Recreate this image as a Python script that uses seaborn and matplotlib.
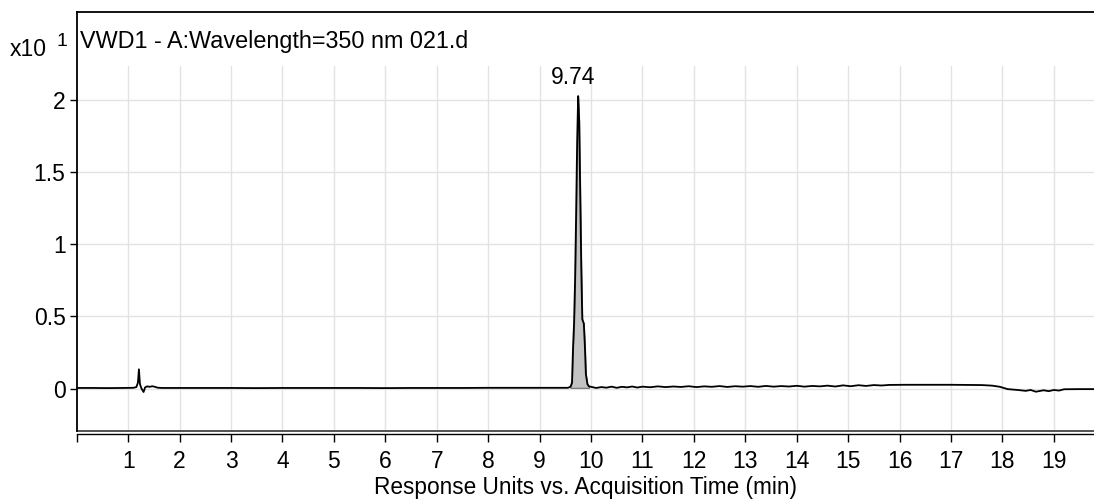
import matplotlib
matplotlib.use("Agg")
import matplotlib.pyplot as plt
import seaborn as sns
import numpy as np
import pandas as pd

# chromatogram trace (signal in units of x10^1)
time_min = [0.00, 0.30, 0.60, 0.90, 1.10, 1.16, 1.19, 1.21, 1.23, 1.26, 1.30, 1.33,
            1.37, 1.42, 1.47, 1.52, 1.57, 1.65, 2.0, 2.5, 3.0, 3.5, 4.0, 4.5, 5.0,
            5.5, 6.0, 6.5, 7.0, 7.5, 8.0, 8.5, 9.0, 9.3, 9.55, 9.60, 9.63, 9.65,
            9.67, 9.69, 9.71, 9.73, 9.75, 9.77, 9.79, 9.81, 9.83, 9.86, 9.88, 9.90,
            9.93, 9.96, 10.00, 10.1, 10.2, 10.3, 10.4, 10.5, 10.6, 10.7, 10.8, 10.9,
            11.0, 11.15, 11.3, 11.45, 11.6, 11.75, 11.9, 12.05, 12.2, 12.35, 12.5,
            12.65, 12.8, 12.95, 13.1, 13.25, 13.4, 13.55, 13.7, 13.85, 14.0, 14.15,
            14.3, 14.45, 14.6, 14.75, 14.9, 15.05, 15.2, 15.35, 15.5, 15.65, 15.8,
            16.1, 16.4, 16.7, 17.0, 17.3, 17.6, 17.8, 17.95, 18.1, 18.3, 18.45,
            18.55, 18.65, 18.8, 18.9, 19.0, 19.1, 19.2, 19.5, 19.8]
signal = [0.004, 0.004, 0.003, 0.004, 0.005, 0.01, 0.04, 0.133, 0.03, 0.0, -0.024, 0.008,
          0.015, 0.012, 0.016, 0.012, 0.006, 0.004, 0.004, 0.004, 0.004, 0.003, 0.004, 0.004, 0.004,
          0.004, 0.003, 0.004, 0.004, 0.004, 0.005, 0.005, 0.005, 0.005, 0.005, 0.012, 0.04, 0.28,
          0.45, 0.75, 1.2, 1.7, 2.025, 1.85, 1.35, 0.85, 0.48, 0.45, 0.30, 0.10,
          0.03, 0.015, 0.012, 0.004, 0.010, 0.006, 0.013, 0.005, 0.012, 0.008, 0.014, 0.007,
          0.013, 0.009, 0.015, 0.010, 0.014, 0.011, 0.016, 0.010, 0.015, 0.012, 0.017,
          0.011, 0.016, 0.013, 0.017, 0.012, 0.018, 0.013, 0.017, 0.014, 0.019, 0.013,
          0.018, 0.015, 0.020, 0.014, 0.022, 0.016, 0.023, 0.018, 0.024, 0.021, 0.025,
          0.026, 0.026, 0.026, 0.026, 0.025, 0.024, 0.02, 0.012, -0.004, -0.01, -0.016,
          -0.010, -0.022, -0.012, -0.018, -0.010, -0.014, -0.005, -0.004, -0.004]

peak_start, peak_end = 9.58, 9.97
peak_label = "9.74"
title = "VWD1 - A:Wavelength=350 nm 021.d"
x_label = "Response Units vs. Acquisition Time (min)"
x_ticks = list(range(0, 20))
y_ticks = [0, 0.5, 1, 1.5, 2]
y_tick_labels = ["0", "0.5", "1", "1.5", "2"]

df = pd.DataFrame({"time": time_min, "signal": signal})

sns.set_style("white")
plt.rcParams["font.family"] = ["Liberation Sans", "DejaVu Sans"]
plt.rcParams["text.color"] = "black"
plt.rcParams["axes.labelcolor"] = "black"
plt.rcParams["xtick.color"] = "black"
plt.rcParams["ytick.color"] = "black"

fig = plt.figure(figsize=(10.94, 4.99), dpi=100)
ax = fig.add_axes([76.7 / 1094, 68 / 499, 1 - 76.7 / 1094, (431 - 12) / 499])

ax.set_xlim(0, 19.78)
ax.set_ylim(-0.294, 2.607)

# grid, leaving the header band free
for xv in range(1, 20):
    ax.plot([xv, xv], [-0.294, 2.233], color="#e3e3e3", lw=1, zorder=0)
for yv in y_ticks:
    ax.axhline(yv, color="#e3e3e3", lw=1, zorder=0)

# integrated peak area
pk = df[(df.time >= peak_start) & (df.time <= peak_end)]
ax.fill_between(pk.time, 0.005, pk.signal, color="#c3c3c3", edgecolor="#6e6e6e", lw=0.8, zorder=1)

sns.lineplot(data=df, x="time", y="signal", ax=ax, color="black", lw=1.3,
             estimator=None, sort=False, zorder=2)

apex = df.loc[df.signal.idxmax()]
ax.annotate(peak_label, (apex.time, apex.signal), xytext=(-4, 5), textcoords="offset points",
            ha="center", va="bottom", fontsize=16.5)

ax.text(0.003, 0.93, title, transform=ax.transAxes, fontsize=16.8, va="center", ha="left")

ax.set_xticks(x_ticks)
ax.set_xticklabels([""] + [str(v) for v in x_ticks[1:]])
ax.set_yticks(y_ticks)
ax.set_yticklabels(y_tick_labels)
ax.tick_params(axis="both", labelsize=16.5, length=5, width=1, direction="out",
               bottom=True, left=True, colors="black", pad=3)
ax.tick_params(axis="x", length=6, pad=6)
ax.set_xlabel(x_label, fontsize=16.3, labelpad=2)
ax.set_ylabel("")

for s in ["top", "left"]:
    ax.spines[s].set_color("black")
    ax.spines[s].set_linewidth(1.3)
ax.spines["right"].set_visible(False)
ax.spines["bottom"].set_position(("outward", 2))
ax.spines["bottom"].set_linewidth(1.0)
ax.spines["bottom"].set_color("black")
ax.plot([0, 1], [0, 0], transform=ax.transAxes, color="#444444", lw=1.3, clip_on=False)

# multiplier label
fig.text(10 / 1094, 1 - 50 / 499, "x10", fontsize=16.5, va="center", ha="left")
fig.text(57 / 1094, 1 - 42 / 499, "1", fontsize=14, va="center", ha="left")

fig.savefig("out.png", dpi=100)
